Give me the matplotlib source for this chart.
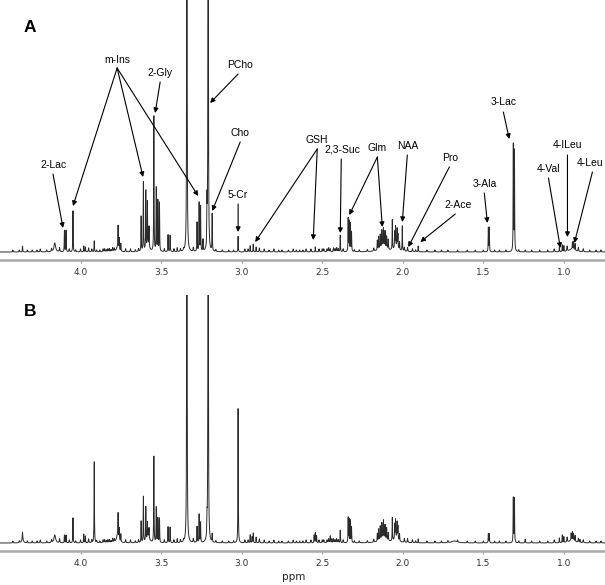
import matplotlib
matplotlib.use("Agg")
import matplotlib.pyplot as plt
import numpy as np

# x range of both spectra (ppm, reversed)
PPM_LEFT = 4.50
PPM_RIGHT = 0.745

# ---- spectrum A: sharp lines (ppm, height) ----
a_ppm = [4.360, 4.100, 4.090, 4.047, 3.980, 3.970, 3.915, 3.767, 3.760, 3.750,
         3.624, 3.610, 3.595, 3.585, 3.575, 3.545, 3.530, 3.520, 3.510, 3.457,
         3.444, 3.400, 3.340, 3.277, 3.264, 3.255, 3.240, 3.215, 3.208, 3.183,
         3.022, 2.947, 2.928, 2.910, 2.543, 2.388, 2.339, 2.333, 2.325, 2.318,
         2.158, 2.150, 2.140, 2.130, 2.120, 2.110, 2.100, 2.090, 2.065, 2.050,
         2.045, 2.035, 2.030, 2.020, 2.003, 1.904, 1.469, 1.463, 1.314, 1.307,
         1.028, 1.010, 1.000, 0.947, 0.940, 0.930]
a_height = [6, 22, 22, 41, 6, 5, 11, 22, 12, 8,
            36, 71, 59, 45, 20, 135, 65, 52, 50, 17,
            17, 4, 700, 29, 50, 45, 12, 42, 700, 37,
            16, 6, 8, 5, 5, 17, 33, 30, 28, 20,
            10, 13, 14, 17, 18, 16, 12, 10, 30, 16,
            20, 18, 14, 8, 25, 6, 24, 24, 109, 100,
            5, 7, 6, 7, 8, 7]

# ---- spectrum B: sharp lines (ppm, height) ----
b_ppm = [4.360, 4.100, 4.090, 4.047, 3.980, 3.970, 3.915, 3.767, 3.760, 3.750,
         3.624, 3.610, 3.595, 3.585, 3.575, 3.545, 3.530, 3.520, 3.510, 3.457,
         3.444, 3.400, 3.340, 3.277, 3.264, 3.255, 3.215, 3.208, 3.183, 3.022,
         2.947, 2.935, 2.928, 2.910, 2.550, 2.543, 2.535, 2.450, 2.440, 2.388,
         2.339, 2.333, 2.325, 2.318, 2.158, 2.150, 2.140, 2.130, 2.120, 2.110,
         2.100, 2.090, 2.065, 2.050, 2.045, 2.035, 2.030, 2.020, 1.904, 1.469,
         1.463, 1.314, 1.307, 1.240, 1.028, 1.010, 1.000, 0.955, 0.947, 0.940,
         0.930, 0.900]
b_height = [7, 8, 8, 25, 9, 7, 81, 23, 12, 8,
            22, 47, 34, 16, 10, 86, 36, 25, 25, 16,
            16, 4, 700, 16, 29, 20, 15, 700, 8, 138,
            8, 6, 10, 6, 8, 10, 7, 4, 4, 13,
            25, 23, 22, 16, 8, 12, 14, 16, 18, 14,
            12, 8, 23, 15, 18, 16, 13, 7, 4, 9,
            9, 46, 44, 2, 5, 8, 6, 7, 8, 7,
            6, 3]

# ---- broad humps (ppm, height, half width) ----
a_hump_ppm = [4.160, 3.770, 3.580, 2.120, 2.040, 0.950]
a_hump_h = [9, 5, 6, 6, 5, 3]
a_hump_w = [0.006, 0.008, 0.010, 0.025, 0.015, 0.02]
b_hump_ppm = [4.360, 4.160, 3.770, 3.580, 2.120, 2.040, 1.680, 0.950]
b_hump_h = [4, 8, 8, 6, 5, 5, 2, 3]
b_hump_w = [0.006, 0.006, 0.008, 0.010, 0.025, 0.015, 0.02, 0.02]

# ---- small baseline lines (ppm, height) shared texture ----
minor_ppm = [4.42, 4.38, 4.33, 4.30, 4.27, 4.25, 4.21, 4.18, 4.13, 4.07,
             4.03, 4.00, 3.95, 3.93, 3.90, 3.88, 3.86, 3.85, 3.84, 3.83,
             3.82, 3.81, 3.80, 3.79, 3.72, 3.69, 3.66, 3.64, 3.48, 3.42,
             3.38, 3.36, 3.30, 3.16, 3.12, 3.08, 3.05, 2.98, 2.96, 2.89,
             2.86, 2.83, 2.80, 2.77, 2.75, 2.71, 2.68, 2.66, 2.64, 2.62,
             2.60, 2.57, 2.52, 2.50, 2.49, 2.47, 2.46, 2.45, 2.43, 2.42,
             2.41, 2.40, 2.37, 2.30, 2.27, 2.22, 2.18, 1.99, 1.97, 1.94,
             1.92, 1.85, 1.80, 1.76, 1.72, 1.66, 1.60, 1.55, 1.50, 1.43,
             1.40, 1.36, 1.28, 1.24, 1.20, 1.15, 1.10, 1.06, 0.98, 0.91,
             0.88, 0.84, 0.80, 0.77]
minor_h = [2, 2, 2, 2, 2, 3, 2, 3, 4, 3,
           2, 3, 4, 3, 2, 2, 3, 3, 2, 3,
           3, 2, 4, 3, 3, 3, 2, 3, 3, 3,
           3, 2, 4, 2, 2, 2, 2, 3, 3, 4,
           3, 2, 3, 2, 2, 2, 3, 2, 2, 2,
           3, 3, 3, 3, 3, 3, 4, 3, 4, 3,
           4, 3, 3, 2, 2, 2, 3, 4, 4, 3,
           2, 2, 2, 2, 2, 2, 2, 2, 2, 2,
           2, 2, 2, 2, 2, 2, 2, 3, 5, 4,
           3, 2, 2, 2]

# ---- panel A labels ----
labels = ["m-Ins", "2-Gly", "PCho", "Cho", "5-Cr", "2-Lac", "GSH", "2,3-Suc",
          "Glm", "NAA", "Pro", "2-Ace", "3-Ala", "3-Lac", "4-Val", "4-ILeu", "4-Leu"]
label_pos = [(3.773, 192), (3.506, 179), (3.009, 187), (3.009, 119), (3.022, 57),
             (4.171, 87), (2.531, 112), (2.376, 102), (2.158, 104), (1.972, 106),
             (1.705, 94), (1.655, 47), (1.494, 68), (1.376, 150), (1.096, 83),
             (0.978, 107), (0.835, 89)]
arrow_start = [(3.773, 184), (3.506, 170), (3.022, 178), (3.009, 110), (3.022, 48),
               (4.171, 78), (2.531, 103), (2.382, 93), (2.158, 95), (1.972, 97),
               (1.711, 85), (1.674, 38), (1.494, 59), (1.376, 140), (1.096, 74),
               (0.978, 97), (0.823, 80)]
arrow_targets = [[(4.047, 46), (3.612, 75), (3.270, 56)],
                 [(3.537, 139)],
                 [(3.196, 149)],
                 [(3.183, 41)],
                 [(3.022, 20)],
                 [(4.109, 24)],
                 [(2.916, 10), (2.556, 12)],
                 [(2.388, 19)],
                 [(2.332, 37), (2.127, 25)],
                 [(2.003, 30)],
                 [(1.966, 5)],
                 [(1.891, 10)],
                 [(1.475, 29)],
                 [(1.339, 113)],
                 [(1.022, 4)],
                 [(0.978, 15)],
                 [(0.935, 9)]]

ticks = [4.0, 3.5, 3.0, 2.5, 2.0, 1.5, 1.0]


def build_spectrum(x, ppm, height, hump_ppm, hump_h, hump_w):
    y = np.zeros_like(x)
    for p, h in zip(ppm, height):
        g = 0.0012
        y += h * g**2 / ((x - p)**2 + g**2)
    for p, h, w in zip(hump_ppm, hump_h, hump_w):
        y += h * w**2 / ((x - p)**2 + w**2)
    for p, h in zip(minor_ppm, minor_h):
        g = 0.002
        y += h * g**2 / ((x - p)**2 + g**2)
    return y


def style_axis(ax, ymin, ymax):
    ax.set_xlim(PPM_LEFT, PPM_RIGHT)
    ax.set_ylim(ymin, ymax)
    for s in ["top", "left", "right"]:
        ax.spines[s].set_visible(False)
    ax.spines["bottom"].set_color("#a8a8a8")
    ax.spines["bottom"].set_linewidth(1.8)
    ax.set_yticks([])
    ax.set_xticks(ticks)
    ax.set_xticklabels(["%.1f" % t for t in ticks])
    ax.tick_params(axis="x", length=2, width=0.8, color="#a0a0a0", pad=3.5,
                   labelsize=6.5, labelcolor="#333333")
    ax.patch.set_alpha(0)


x = np.arange(PPM_RIGHT, PPM_LEFT, 0.0004)
spec_a = build_spectrum(x, a_ppm, a_height, a_hump_ppm, a_hump_h, a_hump_w)
spec_b = build_spectrum(x, b_ppm, b_height, b_hump_ppm, b_hump_h, b_hump_w)

fig = plt.figure(figsize=(6.05, 5.85), dpi=100)
ax_a = fig.add_axes([0.0, 1 - 260 / 585, 1.0, 260 / 585])
ax_b = fig.add_axes([0.0, 1 - 551 / 585, 1.0, 256 / 585])

ax_a.plot(x, spec_a, color="#2a2a2a", lw=0.7)
ax_b.plot(x, spec_b, color="#2a2a2a", lw=0.7)
style_axis(ax_a, -8, 252)
style_axis(ax_b, -8, 248)

lab_font = ["Liberation Sans", "DejaVu Sans"]
for name, pos, start, targets in zip(labels, label_pos, arrow_start, arrow_targets):
    ax_a.text(pos[0], pos[1], name, ha="center", va="center", fontsize=7.5,
              family=lab_font)
    for t in targets:
        ax_a.annotate("", xy=t, xytext=start,
                      arrowprops=dict(arrowstyle="-|>", color="black", lw=0.8,
                                      mutation_scale=7, shrinkA=0, shrinkB=0))

fig.text(24 / 605, 1 - 28 / 585, "A", fontsize=12.5, fontweight="bold",
         va="center", ha="left", family=lab_font)
fig.text(24 / 605, 1 - 311 / 585, "B", fontsize=12.5, fontweight="bold",
         va="center", ha="left", family=lab_font)
fig.text(0.5 - 9 / 605, 1 - 577 / 585, "ppm", fontsize=7.5, ha="center",
         va="center", color="#222222")

fig.savefig("out.png", dpi=100)
